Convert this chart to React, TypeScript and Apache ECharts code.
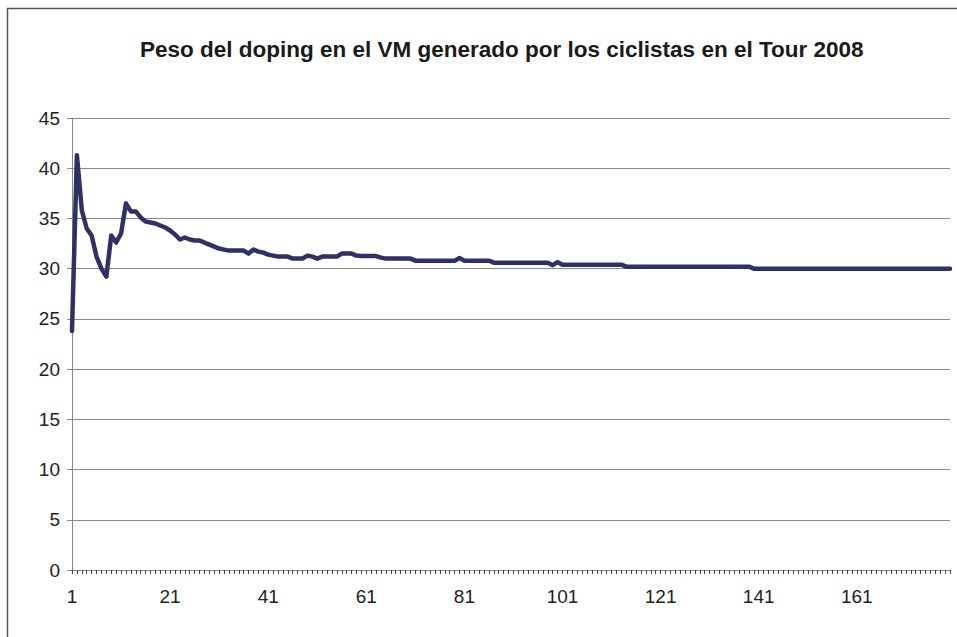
import React, { useEffect, useRef } from "react";
import * as echarts from "echarts";

const title = "Peso del doping en el VM generado por los ciclistas en el Tour 2008";

const yTicks = [0, 5, 10, 15, 20, 25, 30, 35, 40, 45];

// values for riders 1..180
const valuesA = [
  23.8, 41.3, 35.8, 34.0, 33.3, 31.2, 30.0, 29.2, 33.3, 32.6,
  33.5, 36.5, 35.7, 35.7, 35.1, 34.7, 34.6, 34.5, 34.3, 34.1,
  33.8, 33.4, 32.9, 33.1, 32.9, 32.8, 32.8, 32.6, 32.4, 32.2,
  32.0, 31.9, 31.8, 31.8, 31.8, 31.8, 31.5, 31.9, 31.7, 31.6,
];
const valuesB = [
  31.4, 31.3, 31.2, 31.2, 31.2, 31.0, 31.0, 31.0, 31.3, 31.2,
  31.0, 31.2, 31.2, 31.2, 31.2, 31.5, 31.5, 31.5, 31.3, 31.25,
  31.25, 31.25, 31.25, 31.1, 31.0, 31.0, 31.0, 31.0, 31.0, 31.0,
  30.8, 30.8, 30.8, 30.8, 30.8, 30.8, 30.8, 30.8, 30.8, 31.05,
];
const valuesC = [
  30.8, 30.8, 30.8, 30.8, 30.8, 30.8, 30.6, 30.6, 30.6, 30.6,
  30.6, 30.6, 30.6, 30.6, 30.6, 30.6, 30.6, 30.6, 30.35, 30.65,
  30.4, 30.4, 30.4, 30.4, 30.4, 30.4, 30.4, 30.4, 30.4, 30.4,
  30.4, 30.4, 30.4, 30.2, 30.2, 30.2, 30.2, 30.2, 30.2, 30.2,
];
const valuesD = [
  30.2, 30.2, 30.2, 30.2, 30.2, 30.2, 30.2, 30.2, 30.2, 30.2,
  30.2, 30.2, 30.2, 30.2, 30.2, 30.2, 30.2, 30.2, 30.2, 30.0,
  30.0, 30.0, 30.0, 30.0, 30.0, 30.0, 30.0, 30.0, 30.0, 30.0,
  30.0, 30.0, 30.0, 30.0, 30.0, 30.0, 30.0, 30.0, 30.0, 30.0,
];
const valuesE = [
  30.0, 30.0, 30.0, 30.0, 30.0, 30.0, 30.0, 30.0, 30.0, 30.0,
  30.0, 30.0, 30.0, 30.0, 30.0, 30.0, 30.0, 30.0, 30.0, 30.0,
];

const values = [...valuesA, ...valuesB, ...valuesC, ...valuesD, ...valuesE];
const categories = values.map((_, i) => String(i + 1));

export default function App() {
  const ref = useRef<HTMLDivElement>(null);
  useEffect(() => {
    if (!ref.current) return;
    const chart = echarts.init(ref.current, null, { renderer: "svg" });
    chart.setOption({
      animation: false,
      backgroundColor: "#ffffff",
      title: {
        text: title,
        left: 135,
        top: 33,
        textStyle: {
          fontFamily: "Liberation Sans, Arial, sans-serif",
          fontWeight: "bold",
          fontSize: 22.5,
          color: "#1a1a1a",
        },
      },
      graphic: [
        {
          type: "rect",
          shape: { x: 7.5, y: 8.5, width: 1200, height: 1000 },
          style: { fill: "none", stroke: "#555555", lineWidth: 1.5 },
          silent: true,
        },
      ],
      grid: { left: 72, right: 7, top: 118, bottom: 67, containLabel: false },
      xAxis: {
        type: "category",
        data: categories,
        boundaryGap: false,
        axisLine: { lineStyle: { color: "#888888", width: 1 } },
        axisTick: { show: true, interval: 0, length: 4, lineStyle: { color: "#444444" } },
        axisLabel: {
          interval: 19,
          margin: 17,
          fontFamily: "Liberation Sans, Arial, sans-serif",
          fontSize: 19,
          color: "#222222",
        },
        splitLine: { show: false },
      },
      yAxis: {
        type: "value",
        min: 0,
        max: 45,
        interval: 5,
        axisLine: { show: true, lineStyle: { color: "#888888", width: 1 } },
        axisTick: { show: true, length: 5, lineStyle: { color: "#888888" } },
        axisLabel: {
          margin: 12,
          fontFamily: "Liberation Sans, Arial, sans-serif",
          fontSize: 19,
          color: "#222222",
          formatter: (v: number) => (yTicks.includes(v) ? String(v) : ""),
        },
        splitLine: { show: true, lineStyle: { color: "#8a8a8a", width: 1 } },
      },
      series: [
        {
          type: "line",
          data: values,
          showSymbol: false,
          symbol: "none",
          lineStyle: { color: "#2f3163", width: 4.5, cap: "round", join: "round" },
        },
      ],
    });
    return () => chart.dispose();
  }, []);
  return (
    <div
      ref={ref}
      style={{ position: "fixed", left: 0, top: 0, width: 957, height: 637 }}
    />
  );
}
